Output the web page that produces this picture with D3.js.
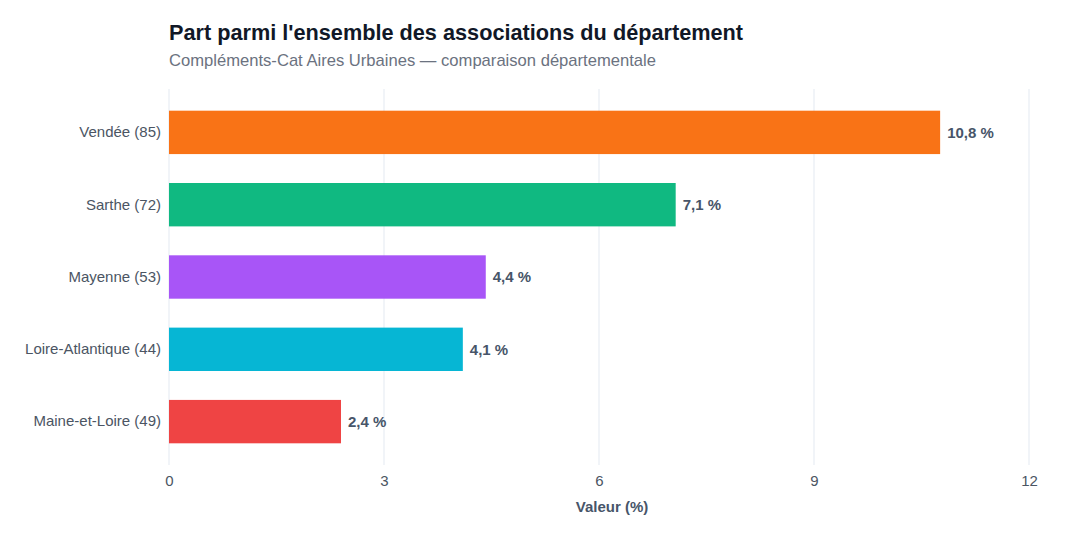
<!DOCTYPE html>
<html lang="fr">
<head>
<meta charset="UTF-8">
<title>Part parmi l'ensemble des associations du département</title>
<script src="https://d3js.org/d3.v7.min.js"></script>
<style>
  body { margin: 0; background: #fff; font-family: "Liberation Sans", Arial, sans-serif; }
  .grid line { stroke: #f1f4f8; stroke-width: 2; }
  .axis path, .axis line { display: none; }
  .axis text { font-size: 15px; fill: #4b5563; font-family: "Liberation Sans", Arial, sans-serif; }
</style>
</head>
<body>
<div id="chart"></div>
<script>
const departements = ["Vendée (85)", "Sarthe (72)", "Mayenne (53)", "Loire-Atlantique (44)", "Maine-et-Loire (49)"];
const valeurs = [10.76, 7.07, 4.42, 4.10, 2.40];
const couleurs = ["#f97316", "#10b981", "#a855f7", "#06b6d4", "#ef4444"];
const xTicks = [0, 3, 6, 9, 12];

const width = 1080, height = 540;
const margin = { top: 89, right: 51, bottom: 75, left: 169 };
const innerW = width - margin.left - margin.right;
const innerH = height - margin.top - margin.bottom;

const svg = d3.select("#chart").append("svg")
    .attr("width", width)
    .attr("height", height);

svg.append("text")
    .attr("x", margin.left).attr("y", 40)
    .style("font-size", "21.7px").style("font-weight", "bold")
    .style("fill", "#111827")
    .text("Part parmi l'ensemble des associations du département");

svg.append("text")
    .attr("x", margin.left).attr("y", 66)
    .style("font-size", "16.6px")
    .style("fill", "#6b7280")
    .text("Compléments-Cat Aires Urbaines — comparaison départementale");

const g = svg.append("g").attr("transform", `translate(${margin.left},${margin.top})`);

const x = d3.scaleLinear().domain([0, 12]).range([0, innerW]);
const y = d3.scaleBand().domain(departements).range([0, innerH]).paddingInner(0.4).paddingOuter(0.3);

g.append("g").attr("class", "grid")
    .selectAll("line").data(xTicks).join("line")
    .attr("x1", d => x(d)).attr("x2", d => x(d))
    .attr("y1", 0).attr("y2", innerH);

g.selectAll("rect.bar")
    .data(departements)
    .join("rect")
    .attr("class", "bar")
    .attr("x", 0)
    .attr("y", d => y(d))
    .attr("width", (d, i) => x(valeurs[i]))
    .attr("height", y.bandwidth())
    .attr("fill", (d, i) => couleurs[i]);

g.selectAll("text.val")
    .data(departements)
    .join("text")
    .attr("class", "val")
    .attr("x", (d, i) => x(valeurs[i]) + 7)
    .attr("y", d => y(d) + y.bandwidth() / 2)
    .attr("dy", "0.35em")
    .style("font-size", "15px").style("font-weight", "bold")
    .style("fill", "#475569")
    .text((d, i) => valeurs[i].toFixed(1).replace(".", ",") + " %");

g.append("g").attr("class", "axis")
    .call(d3.axisLeft(y).tickSize(0).tickPadding(8));

g.append("g").attr("class", "axis")
    .attr("transform", `translate(0,${innerH})`)
    .call(d3.axisBottom(x).tickValues(xTicks).tickSize(0).tickPadding(10));

// axis title sits slightly right of the plot centre in the original
svg.append("text")
    .attr("x", 612).attr("y", 512)
    .attr("text-anchor", "middle")
    .style("font-size", "15px").style("font-weight", "bold")
    .style("fill", "#475569")
    .text("Valeur (%)");
</script>
</body>
</html>
